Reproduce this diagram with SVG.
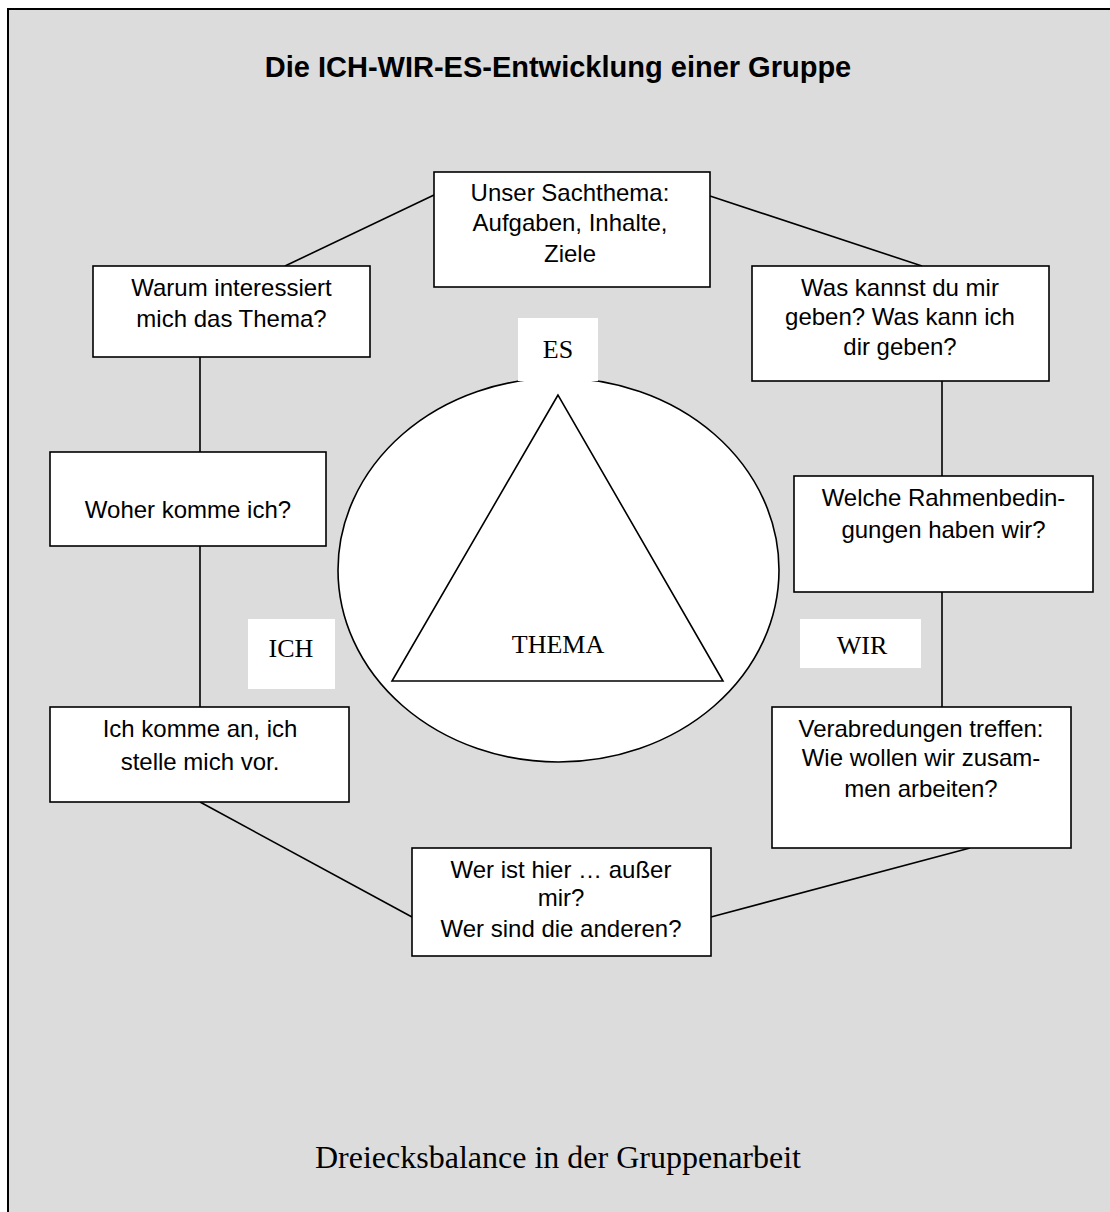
<svg xmlns="http://www.w3.org/2000/svg" width="1110" height="1212" viewBox="0 0 1110 1212">
<style>
.box{fill:#fff;stroke:#000;stroke-width:1.6}
.t{font-family:"Liberation Sans",Arial,sans-serif;font-size:24px;fill:#000;text-anchor:middle}
.s{font-family:"Liberation Serif","Times New Roman",serif;fill:#000;text-anchor:middle}
.lbl{fill:#fff;stroke:none}
.con line{stroke:#000;stroke-width:1.6}
</style>
<rect x="0" y="0" width="1110" height="1212" fill="#fff"/>
<rect x="8" y="9" width="1120" height="1230" fill="#dcdcdc" stroke="#000" stroke-width="2"/>
<text x="558" y="77" font-family="'Liberation Sans',Arial,sans-serif" font-size="29" font-weight="bold" text-anchor="middle">Die ICH-WIR-ES-Entwicklung einer Gruppe</text>

<g id="connectors" class="con">
<line x1="434" y1="195" x2="285" y2="266"/>
<line x1="710" y1="196" x2="922" y2="266"/>
<line x1="200" y1="357" x2="200" y2="452"/>
<line x1="200" y1="546" x2="200" y2="707"/>
<line x1="942" y1="381" x2="942" y2="476"/>
<line x1="942" y1="592" x2="942" y2="707"/>
<line x1="200" y1="802" x2="412" y2="917"/>
<line x1="711" y1="917" x2="970" y2="848"/>
</g>

<g id="center">
<ellipse cx="558.5" cy="570" rx="220.5" ry="192" fill="#fff" stroke="#000" stroke-width="1.6"/>
<polygon points="558,395 392,681 723,681" fill="#fff" stroke="#000" stroke-width="1.6"/>
<text class="s" x="558" y="653" font-size="26">THEMA</text>
</g>

<g id="label-es">
<rect class="lbl" x="518" y="318" width="80" height="63"/>
<text class="s" x="558" y="358" font-size="26">ES</text>
</g>
<g id="label-ich">
<rect class="lbl" x="248" y="619" width="87" height="70"/>
<text class="s" x="291" y="657" font-size="26">ICH</text>
</g>
<g id="label-wir">
<rect class="lbl" x="800" y="619" width="121" height="49"/>
<text class="s" x="862" y="654" font-size="26">WIR</text>
</g>

<g id="node-sachthema">
<rect class="box" x="434" y="172" width="276" height="115"/>
<text class="t" x="570" y="201">Unser Sachthema:</text>
<text class="t" x="570" y="231">Aufgaben, Inhalte,</text>
<text class="t" x="570" y="262">Ziele</text>
</g>
<g id="node-warum">
<rect class="box" x="93" y="266" width="277" height="91"/>
<text class="t" x="231.5" y="296">Warum interessiert</text>
<text class="t" x="231.5" y="327">mich das Thema?</text>
</g>
<g id="node-was">
<rect class="box" x="752" y="266" width="297" height="115"/>
<text class="t" x="900" y="296">Was kannst du mir</text>
<text class="t" x="900" y="325">geben? Was kann ich</text>
<text class="t" x="900" y="355">dir geben?</text>
</g>
<g id="node-woher">
<rect class="box" x="50" y="452" width="276" height="94"/>
<text class="t" x="188" y="518">Woher komme ich?</text>
</g>
<g id="node-rahmen">
<rect class="box" x="794" y="476" width="299" height="116"/>
<text class="t" x="943.5" y="506">Welche Rahmenbedin-</text>
<text class="t" x="943.5" y="538">gungen haben wir?</text>
</g>
<g id="node-ankommen">
<rect class="box" x="50" y="707" width="299" height="95"/>
<text class="t" x="200" y="737">Ich komme an, ich</text>
<text class="t" x="200" y="770">stelle mich vor.</text>
</g>
<g id="node-verabredungen">
<rect class="box" x="772" y="707" width="299" height="141"/>
<text class="t" x="921" y="737">Verabredungen treffen:</text>
<text class="t" x="921" y="766">Wie wollen wir zusam-</text>
<text class="t" x="921" y="797">men arbeiten?</text>
</g>
<g id="node-wer">
<rect class="box" x="412" y="848" width="299" height="108"/>
<text class="t" x="561" y="878">Wer ist hier … außer</text>
<text class="t" x="561" y="906">mir?</text>
<text class="t" x="561" y="937">Wer sind die anderen?</text>
</g>

<text class="s" x="558" y="1168" font-size="32">Dreiecksbalance in der Gruppenarbeit</text>
</svg>
